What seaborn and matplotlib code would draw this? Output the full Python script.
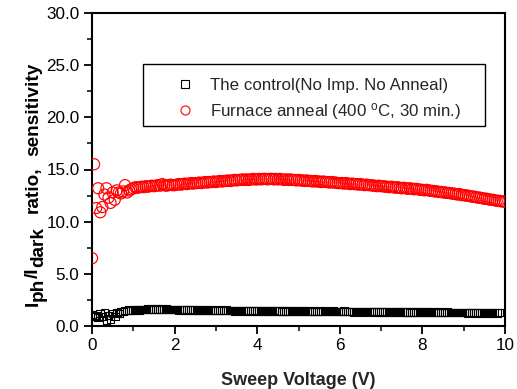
import matplotlib
matplotlib.use("Agg")
import matplotlib.pyplot as plt
import seaborn as sns
import pandas as pd
from matplotlib.ticker import MultipleLocator, FormatStrFormatter
from matplotlib.lines import Line2D
from matplotlib.patches import Rectangle

# ---------------- data ----------------
voltage = [
    0.00, 0.05, 0.10, 0.15, 0.20, 0.25, 0.30, 0.35, 0.40, 0.45, 0.50, 0.55, 0.60, 0.65, 0.70, 0.75, 0.80, 0.85, 0.90, 0.95,
    1.00, 1.05, 1.10, 1.15, 1.20, 1.25, 1.30, 1.35, 1.40, 1.45, 1.50, 1.55, 1.60, 1.65, 1.70, 1.75, 1.80, 1.85, 1.90, 1.95,
    2.00, 2.05, 2.10, 2.15, 2.20, 2.25, 2.30, 2.35, 2.40, 2.45, 2.50, 2.55, 2.60, 2.65, 2.70, 2.75, 2.80, 2.85, 2.90, 2.95,
    3.00, 3.05, 3.10, 3.15, 3.20, 3.25, 3.30, 3.35, 3.40, 3.45, 3.50, 3.55, 3.60, 3.65, 3.70, 3.75, 3.80, 3.85, 3.90, 3.95,
    4.00, 4.05, 4.10, 4.15, 4.20, 4.25, 4.30, 4.35, 4.40, 4.45, 4.50, 4.55, 4.60, 4.65, 4.70, 4.75, 4.80, 4.85, 4.90, 4.95,
    5.00, 5.05, 5.10, 5.15, 5.20, 5.25, 5.30, 5.35, 5.40, 5.45, 5.50, 5.55, 5.60, 5.65, 5.70, 5.75, 5.80, 5.85, 5.90, 5.95,
    6.00, 6.05, 6.10, 6.15, 6.20, 6.25, 6.30, 6.35, 6.40, 6.45, 6.50, 6.55, 6.60, 6.65, 6.70, 6.75, 6.80, 6.85, 6.90, 6.95,
    7.00, 7.05, 7.10, 7.15, 7.20, 7.25, 7.30, 7.35, 7.40, 7.45, 7.50, 7.55, 7.60, 7.65, 7.70, 7.75, 7.80, 7.85, 7.90, 7.95,
    8.00, 8.05, 8.10, 8.15, 8.20, 8.25, 8.30, 8.35, 8.40, 8.45, 8.50, 8.55, 8.60, 8.65, 8.70, 8.75, 8.80, 8.85, 8.90, 8.95,
    9.00, 9.05, 9.10, 9.15, 9.20, 9.25, 9.30, 9.35, 9.40, 9.45, 9.50, 9.55, 9.60, 9.65, 9.70, 9.75, 9.80, 9.85, 9.90, 9.95,
    10.00,
]

furnace_anneal = [
    6.5, 15.5, 11.3, 13.2, 10.9, 11.4, 12.6, 13.2, 12.3, 11.8, 12.8, 12.1, 13.0, 12.8, 12.7, 12.9, 13.5, 12.8, 13.0, 13.1,
    13.2, 13.3, 13.25, 13.3, 13.35, 13.3, 13.4, 13.35, 13.4, 13.45, 13.4, 13.45, 13.5, 13.45, 13.6, 13.5, 13.45, 13.5, 13.55, 13.5,
    13.5, 13.55, 13.6, 13.55, 13.6, 13.65, 13.6, 13.65, 13.7, 13.65, 13.7, 13.7, 13.75, 13.7, 13.75, 13.8, 13.75, 13.8, 13.8, 13.85,
    13.8, 13.85, 13.9, 13.85, 13.9, 13.9, 13.95, 13.9, 13.95, 14.0, 13.95, 14.0, 14.0, 14.05, 14.0, 14.05, 14.0, 14.05, 14.1, 14.05,
    14.05, 14.1, 14.05, 14.1, 14.1, 14.05, 14.1, 14.1, 14.05, 14.1, 14.05, 14.1, 14.05, 14.0, 14.05, 14.0, 14.05, 14.0, 14.0, 13.95,
    14.0, 13.95, 13.95, 13.9, 13.95, 13.9, 13.9, 13.85, 13.9, 13.85, 13.85, 13.8, 13.85, 13.8, 13.8, 13.75, 13.8, 13.75, 13.75, 13.7,
    13.7, 13.7, 13.65, 13.7, 13.65, 13.6, 13.65, 13.6, 13.6, 13.55, 13.6, 13.55, 13.5, 13.55, 13.5, 13.5, 13.45, 13.45, 13.4, 13.45,
    13.4, 13.4, 13.35, 13.35, 13.3, 13.35, 13.3, 13.25, 13.3, 13.25, 13.2, 13.25, 13.2, 13.15, 13.2, 13.15, 13.1, 13.15, 13.1, 13.05,
    13.05, 13.0, 13.05, 13.0, 12.95, 12.95, 12.9, 12.9, 12.85, 12.85, 12.8, 12.8, 12.75, 12.75, 12.7, 12.7, 12.65, 12.6, 12.65, 12.55,
    12.55, 12.5, 12.5, 12.45, 12.4, 12.4, 12.35, 12.3, 12.3, 12.25, 12.2, 12.2, 12.15, 12.1, 12.1, 12.05, 12.0, 12.0, 11.95, 11.95,
    11.9,
]

control = [
    1.1, 0.9, 1.0, 0.8, 1.2, 0.9, 1.3, 0.6, 1.0, 0.7, 1.2, 0.9, 1.3, 1.2, 1.4, 1.4, 1.5, 1.5, 1.55, 1.5,
    1.55, 1.55, 1.6, 1.55, 1.6, 1.6, 1.6, 1.65, 1.6, 1.65, 1.6, 1.65, 1.65, 1.6, 1.65, 1.6, 1.65, 1.6, 1.6, 1.6,
    1.6, 1.6, 1.55, 1.6, 1.55, 1.6, 1.55, 1.55, 1.6, 1.55, 1.55, 1.55, 1.5, 1.55, 1.55, 1.5, 1.55, 1.5, 1.55, 1.5,
    1.5, 1.55, 1.5, 1.5, 1.5, 1.55, 1.5, 1.5, 1.5, 1.45, 1.5, 1.5, 1.45, 1.5, 1.5, 1.45, 1.5, 1.45, 1.5, 1.45,
    1.45, 1.5, 1.45, 1.45, 1.5, 1.45, 1.45, 1.45, 1.5, 1.45, 1.45, 1.45, 1.4, 1.45, 1.45, 1.45, 1.4, 1.45, 1.45, 1.4,
    1.45, 1.4, 1.45, 1.45, 1.4, 1.45, 1.4, 1.45, 1.4, 1.4, 1.45, 1.4, 1.4, 1.45, 1.4, 1.4, 1.4, 1.45, 1.4, 1.4,
    1.4, 1.4, 1.45, 1.4, 1.4, 1.4, 1.4, 1.35, 1.4, 1.4, 1.4, 1.35, 1.4, 1.4, 1.35, 1.4, 1.4, 1.35, 1.4, 1.35,
    1.4, 1.35, 1.4, 1.35, 1.35, 1.4, 1.35, 1.35, 1.35, 1.4, 1.35, 1.35, 1.35, 1.35, 1.3, 1.35, 1.35, 1.35, 1.3, 1.35,
    1.35, 1.3, 1.35, 1.35, 1.3, 1.35, 1.3, 1.3, 1.35, 1.3, 1.3, 1.3, 1.35, 1.3, 1.3, 1.3, 1.3, 1.3, 1.3, 1.3,
    1.3, 1.3, 1.25, 1.3, 1.3, 1.3, 1.25, 1.3, 1.3, 1.25, 1.3, 1.3, 1.25, 1.3, 1.25, 1.3, 1.25, 1.3,
]

series_labels = ["The control(No Imp. No Anneal)", "Furnace anneal (400 $^{o}$C, 30 min.)"]
x_ticks = [0, 2, 4, 6, 8, 10]
y_ticks = [0.0, 5.0, 10.0, 15.0, 20.0, 25.0, 30.0]
# y-axis title pieces: (text, is_subscript, gap before in px)
ylabel_pieces = [("I", 0, 0), ("ph", 1, 0), ("/I", 0, 0), ("dark", 1, 0),
                 ("ratio,", 0, 14), ("sensitivity", 0, 10)]

# ---------------- style ----------------
sns.set_theme(style="ticks")
plt.rcParams["font.family"] = ["Liberation Sans", "DejaVu Sans"]
plt.rcParams["mathtext.fontset"] = "custom"
plt.rcParams["mathtext.rm"] = "Liberation Sans"
plt.rcParams["mathtext.it"] = "Liberation Sans"
plt.rcParams["mathtext.bf"] = "Liberation Sans:bold"

fig = plt.figure(figsize=(5.17, 3.89), dpi=100)
ax = fig.add_axes([92 / 517, 1 - 326 / 389, 413 / 517, 313 / 389])

df_c = pd.DataFrame({"V": voltage[:len(control)], "R": control})
df_f = pd.DataFrame({"V": voltage[:len(furnace_anneal)], "R": furnace_anneal})

sns.scatterplot(data=df_c, x="V", y="R", ax=ax, marker="s", s=30,
                facecolor="none", edgecolor="black", linewidth=0.8, zorder=3)
sns.scatterplot(data=df_f, x="V", y="R", ax=ax, marker="o", s=64,
                facecolor="none", edgecolor="red", linewidth=0.85, zorder=3)

ax.set_xlim(0, 10)
ax.set_ylim(0, 30)
ax.set_xticks(x_ticks)
ax.set_yticks(y_ticks)
ax.yaxis.set_major_formatter(FormatStrFormatter("%.1f"))
ax.xaxis.set_minor_locator(MultipleLocator(1))
ax.yaxis.set_minor_locator(MultipleLocator(2.5))
ax.tick_params(which="major", direction="out", length=6, width=1.3, labelsize=12.3,
               colors="black", pad=3)
ax.tick_params(which="minor", direction="out", length=3.5, width=1.3)
for sp in ax.spines.values():
    sp.set_visible(True)
    sp.set_linewidth(1.5)
    sp.set_color("black")

ax.set_xlabel("Sweep Voltage (V)", fontsize=13, fontweight="bold", labelpad=13)
ax.set_ylabel("")

# y-axis title built from pieces so the subscripts keep full size
renderer = fig.canvas.get_renderer()
W, H = fig.bbox.width, fig.bbox.height
base_x = 38.0
pos_y = H - 306.0
for txt, sub, gap in ylabel_pieces:
    pos_y += gap
    t = fig.text((base_x + 5.0 * sub) / W, pos_y / H, txt, rotation=90,
                 rotation_mode="anchor", ha="left", va="baseline",
                 fontsize=13.7, fontweight="bold", color="black")
    pos_y += t.get_window_extent(renderer).height

# legend
handles = [
    Line2D([], [], marker="s", linestyle="none", markerfacecolor="none",
           markeredgecolor="black", markersize=5.5, markeredgewidth=0.8),
    Line2D([], [], marker="o", linestyle="none", markerfacecolor="none",
           markeredgecolor="red", markersize=6.5, markeredgewidth=0.8),
]
leg = ax.legend(handles, series_labels, loc="center left",
                bbox_to_anchor=((169 - 92) / 413, (326 - 100) / 313),
                frameon=False, fontsize=12.2, handlelength=1.9, handletextpad=0.5,
                labelspacing=0.45, borderpad=0, borderaxespad=0)
ax.add_patch(Rectangle(((143 - 92) / 413, (326 - 126) / 313), (485 - 143) / 413, 62 / 313,
                       transform=ax.transAxes, fill=False, edgecolor="black",
                       linewidth=1.0, zorder=4))

fig.savefig("out.png", dpi=100)
